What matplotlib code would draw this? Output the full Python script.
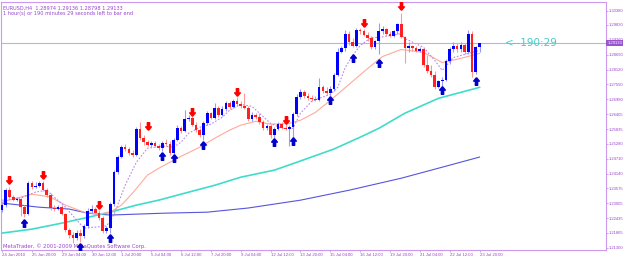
import numpy as np
import matplotlib
matplotlib.use("Agg")
import matplotlib.pyplot as plt
from matplotlib.path import Path

# EURUSD H4 candles, 24 Jun 2010 .. 23 Jul 2010
opens = [1.2274, 1.2293, 1.2350, 1.2324, 1.2312, 1.2316, 1.2285, 1.2259, 1.2377, 1.2362,
         1.2366, 1.2377, 1.2350, 1.2331, 1.2282, 1.2278, 1.2285, 1.2259, 1.2197, 1.2178,
         1.2167, 1.2186, 1.2175, 1.2213, 1.2270, 1.2278, 1.2262, 1.2243, 1.2194, 1.2205,
         1.2297, 1.2419, 1.2477, 1.2515, 1.2507, 1.2492, 1.2484, 1.2584, 1.2549, 1.2534,
         1.2523, 1.2530, 1.2519, 1.2511, 1.2530, 1.2526, 1.2492, 1.2542, 1.2587, 1.2576,
         1.2622, 1.2625, 1.2599, 1.2580, 1.2561, 1.2606, 1.2645, 1.2625, 1.2664, 1.2637,
         1.2660, 1.2683, 1.2667, 1.2690, 1.2679, 1.2671, 1.2664, 1.2622, 1.2637, 1.2629,
         1.2610, 1.2587, 1.2595, 1.2561, 1.2584, 1.2603, 1.2587, 1.2584, 1.2591, 1.2641,
         1.2706, 1.2725, 1.2709, 1.2702, 1.2698, 1.2694, 1.2744, 1.2729, 1.2721, 1.2736,
         1.2790, 1.2881, 1.2893, 1.2950, 1.2916, 1.2904, 1.2962, 1.2958, 1.2946, 1.2931,
         1.2897, 1.2920, 1.2958, 1.2969, 1.2950, 1.2942, 1.2958, 1.2985, 1.2935, 1.2893,
         1.2904, 1.2893, 1.2885, 1.2889, 1.2828, 1.2805, 1.2790, 1.2744, 1.2767, 1.2774,
         1.2843, 1.2889, 1.2904, 1.2889, 1.2908, 1.2878, 1.2950, 1.2801, 1.28974]
highs = [1.2301, 1.2358, 1.2362, 1.2331, 1.2324, 1.2320, 1.2293, 1.2385, 1.2385, 1.2381,
         1.2385, 1.2385, 1.2358, 1.2339, 1.2293, 1.2293, 1.2293, 1.2262, 1.2205, 1.2190,
         1.2197, 1.2201, 1.2221, 1.2282, 1.2293, 1.2285, 1.2274, 1.2251, 1.2213, 1.2305,
         1.2427, 1.2484, 1.2523, 1.2526, 1.2515, 1.2503, 1.2591, 1.2610, 1.2561, 1.2542,
         1.2538, 1.2538, 1.2526, 1.2538, 1.2545, 1.2538, 1.2549, 1.2599, 1.2595, 1.2656,
         1.2637, 1.2633, 1.2610, 1.2587, 1.2614, 1.2652, 1.2648, 1.2683, 1.2671, 1.2671,
         1.2690, 1.2690, 1.2698, 1.2706, 1.2690, 1.2721, 1.2671, 1.2648, 1.2645, 1.2645,
         1.2618, 1.2603, 1.2603, 1.2591, 1.2610, 1.2610, 1.2610, 1.2599, 1.2648, 1.2717,
         1.2736, 1.2732, 1.2721, 1.2713, 1.2709, 1.2778, 1.2752, 1.2744, 1.2748, 1.2797,
         1.2893, 1.2904, 1.2962, 1.2958, 1.2931, 1.2973, 1.2973, 1.2969, 1.2954, 1.2939,
         1.2927, 1.2992, 1.2977, 1.2973, 1.2958, 1.2965, 1.2992, 1.3027, 1.2942, 1.2916,
         1.2908, 1.2901, 1.2897, 1.2893, 1.2866, 1.2828, 1.2805, 1.2774, 1.2782, 1.2851,
         1.2897, 1.2916, 1.2912, 1.2916, 1.2912, 1.2965, 1.2958, 1.2901, 1.29136]
lows = [1.2266, 1.2285, 1.2320, 1.2308, 1.2308, 1.2251, 1.2247, 1.2255, 1.2354, 1.2358,
        1.2362, 1.2347, 1.2324, 1.2274, 1.2270, 1.2274, 1.2255, 1.2190, 1.2167, 1.2148,
        1.2159, 1.2152, 1.2167, 1.2205, 1.2262, 1.2255, 1.2236, 1.2186, 1.2186, 1.2186,
        1.2289, 1.2412, 1.2473, 1.2499, 1.2484, 1.2477, 1.2480, 1.2542, 1.2523, 1.2519,
        1.2515, 1.2515, 1.2503, 1.2499, 1.2519, 1.2484, 1.2484, 1.2538, 1.2568, 1.2572,
        1.2614, 1.2595, 1.2572, 1.2553, 1.2542, 1.2599, 1.2622, 1.2622, 1.2629, 1.2633,
        1.2652, 1.2660, 1.2664, 1.2671, 1.2664, 1.2660, 1.2614, 1.2614, 1.2622, 1.2603,
        1.2580, 1.2580, 1.2549, 1.2549, 1.2580, 1.2584, 1.2580, 1.2519, 1.2549, 1.2633,
        1.2698, 1.2702, 1.2694, 1.2690, 1.2690, 1.2690, 1.2721, 1.2713, 1.2709, 1.2729,
        1.2786, 1.2874, 1.2885, 1.2908, 1.2897, 1.2897, 1.2950, 1.2939, 1.2923, 1.2889,
        1.2889, 1.2870, 1.2950, 1.2942, 1.2935, 1.2935, 1.2950, 1.2931, 1.2839, 1.2878,
        1.2885, 1.2881, 1.2881, 1.2820, 1.2797, 1.2782, 1.2736, 1.2740, 1.2744, 1.2767,
        1.2835, 1.2881, 1.2881, 1.2881, 1.2870, 1.2870, 1.2782, 1.2794, 1.28798]
closes = [1.2293, 1.2350, 1.2324, 1.2312, 1.2316, 1.2285, 1.2259, 1.2377, 1.2362, 1.2366,
          1.2377, 1.2350, 1.2331, 1.2282, 1.2278, 1.2285, 1.2259, 1.2197, 1.2178, 1.2167,
          1.2186, 1.2175, 1.2213, 1.2270, 1.2278, 1.2262, 1.2243, 1.2194, 1.2205, 1.2297,
          1.2419, 1.2477, 1.2515, 1.2507, 1.2492, 1.2484, 1.2584, 1.2549, 1.2534, 1.2523,
          1.2530, 1.2519, 1.2511, 1.2530, 1.2526, 1.2492, 1.2542, 1.2587, 1.2576, 1.2622,
          1.2625, 1.2599, 1.2580, 1.2561, 1.2606, 1.2645, 1.2625, 1.2664, 1.2637, 1.2660,
          1.2683, 1.2667, 1.2690, 1.2679, 1.2671, 1.2664, 1.2622, 1.2637, 1.2629, 1.2610,
          1.2587, 1.2595, 1.2561, 1.2584, 1.2603, 1.2587, 1.2584, 1.2591, 1.2641, 1.2706,
          1.2725, 1.2709, 1.2702, 1.2698, 1.2694, 1.2744, 1.2729, 1.2721, 1.2736, 1.2790,
          1.2881, 1.2893, 1.2950, 1.2916, 1.2904, 1.2962, 1.2958, 1.2946, 1.2931, 1.2897,
          1.2920, 1.2958, 1.2969, 1.2950, 1.2942, 1.2958, 1.2985, 1.2935, 1.2893, 1.2904,
          1.2893, 1.2885, 1.2889, 1.2828, 1.2805, 1.2790, 1.2744, 1.2767, 1.2774, 1.2843,
          1.2889, 1.2904, 1.2889, 1.2908, 1.2878, 1.2950, 1.2801, 1.2897, 1.29133]

# indicator lines, read at a few bars
fast_idx = [0, 5, 9, 12, 14, 17, 20, 22, 25, 28, 30, 33, 36, 39, 43, 46, 48, 50, 53, 56,
            59, 61, 64, 67, 69, 72, 75, 78, 80, 83, 85, 88, 90, 92, 94, 96, 99, 101, 104,
            107, 108, 113, 116, 118, 121, 125, 128]
fast_val = [1.2312, 1.2320, 1.2343, 1.2350, 1.2324, 1.2285, 1.2236, 1.2205, 1.2209, 1.2213,
            1.2255, 1.2369, 1.2457, 1.2511, 1.2519, 1.2515, 1.2534, 1.2568, 1.2591, 1.2603,
            1.2629, 1.2656, 1.2679, 1.2671, 1.2645, 1.2606, 1.2587, 1.2587, 1.2645, 1.2690,
            1.2702, 1.2717, 1.2744, 1.2820, 1.2866, 1.2904, 1.2935, 1.2935, 1.2942, 1.2950,
            1.2931, 1.2897, 1.2847, 1.2809, 1.2858, 1.2874, 1.2885]
mid_idx = [0, 8, 13, 17, 22, 26, 29, 32, 35, 39, 42, 45, 48, 53, 57, 61, 64, 68, 72, 77,
           80, 84, 88, 93, 98, 102, 107, 113, 118, 123, 128]
mid_val = [1.2305, 1.2335, 1.2324, 1.2293, 1.2266, 1.2259, 1.2266, 1.2293, 1.2339, 1.2408,
           1.2434, 1.2457, 1.2480, 1.2515, 1.2549, 1.2580, 1.2599, 1.2614, 1.2603, 1.2606,
           1.2618, 1.2648, 1.2694, 1.2755, 1.2816, 1.2862, 1.2889, 1.2878, 1.2839, 1.2855,
           1.2874]
slow_idx = [0, 8, 16, 22, 29, 36, 42, 48, 57, 64, 73, 80, 89, 96, 101, 108, 117, 128]
slow_val = [1.2186, 1.2201, 1.2224, 1.2243, 1.2266, 1.2293, 1.2312, 1.2335, 1.2369, 1.2400,
            1.2427, 1.2462, 1.2508, 1.2553, 1.2587, 1.2645, 1.2702, 1.2744]
long_idx = [0, 5, 10, 18, 23, 29, 43, 55, 66, 80, 93, 107, 120, 128]
long_val = [1.2301, 1.2293, 1.2285, 1.2278, 1.2262, 1.2255, 1.2262, 1.2266, 1.2282, 1.2312,
            1.2350, 1.2396, 1.2446, 1.2477]

down_idx = [2, 11, 26, 39, 51, 63, 76, 97, 107]
down_val = [1.2389, 1.2408, 1.2293, 1.2595, 1.2648, 1.2725, 1.2618, 1.2992, 1.3057]
up_idx = [6, 21, 29, 43, 46, 54, 73, 78, 88, 94, 101, 118, 127]
up_val = [1.2224, 1.2133, 1.2167, 1.2480, 1.2473, 1.2523, 1.2534, 1.2538, 1.2694, 1.2858,
          1.2839, 1.2732, 1.2767]

time_labels = ["24 Jun 2010", "25 Jun 20:00", "29 Jun 04:00", "30 Jun 12:00", "1 Jul 20:00",
               "5 Jul 04:00", "6 Jul 12:00", "7 Jul 20:00", "9 Jul 04:00", "12 Jul 12:00",
               "13 Jul 20:00", "15 Jul 04:00", "16 Jul 12:00", "19 Jul 20:00", "21 Jul 04:00",
               "22 Jul 12:00", "23 Jul 20:00"]
price_labels = [1.30380, 1.29830, 1.29260, 1.28690, 1.28120, 1.27550, 1.26980, 1.26405,
                1.25835, 1.25280, 1.24710, 1.24140, 1.23575, 1.23005, 1.22435, 1.21865, 1.21300]
bid = 1.29133

frame_c = "#cc99ee"
text_c = "#9944cc"
small_font = ["Liberation Sans", "DejaVu Sans"]

fig = plt.figure(figsize=(6.25, 2.58), dpi=100)
ax = fig.add_axes([0.0016, 0.031, 0.968, 0.961])

x = np.arange(len(closes))
o = np.array(opens); c = np.array(closes)
h = np.array(highs); l = np.array(lows)
up = c >= o

ax.vlines(x[up], l[up], h[up], color="#9999ff", lw=0.8, zorder=2)
ax.vlines(x[~up], l[~up], h[~up], color="#ff9999", lw=0.8, zorder=2)
body_lo = np.minimum(o, c)
body_h = np.maximum(np.abs(c - o), 0.00012)
ax.bar(x[up], body_h[up], bottom=body_lo[up], width=0.72, color="#0000ff", lw=0, zorder=3)
ax.bar(x[~up], body_h[~up], bottom=body_lo[~up], width=0.72, color="#ff2020", lw=0, zorder=3)

ax.plot(long_idx, long_val, color="#5555dd", lw=0.8, zorder=1)
ax.plot(slow_idx, slow_val, color="#40dccb", lw=1.2, zorder=1)
ax.plot(mid_idx, mid_val, color="#ffaa99", lw=0.8, zorder=1)
ax.plot(fast_idx, fast_val, color="#bb88ee", lw=0.8, ls=(0, (1.5, 1.5)), zorder=1)

up_arrow = Path([(0, 1), (0.75, 0.1), (0.3, 0.1), (0.3, -1), (-0.3, -1), (-0.3, 0.1),
                 (-0.75, 0.1), (0, 1)])
down_arrow = Path([(0, -1), (0.75, -0.1), (0.3, -0.1), (0.3, 1), (-0.3, 1), (-0.3, -0.1),
                   (-0.75, -0.1), (0, -1)])
ax.plot(up_idx, up_val, ls="none", marker=up_arrow, ms=5.5, color="#0000cc", zorder=4)
ax.plot(down_idx, down_val, ls="none", marker=down_arrow, ms=5.5, color="#ff0000", zorder=4)

ax.axhline(bid, color="#b8b0e8", lw=0.8, zorder=1)

ax.set_xlim(-0.27, 161.9)
ax.set_ylim(1.21212, 1.30705)

for s in ax.spines.values():
    s.set_color(frame_c)
    s.set_linewidth(0.8)

ax.set_xticks(np.arange(0, 129, 8))
ax.set_xticklabels(time_labels, ha="left", family=small_font, fontsize=3.1)
ax.set_yticks(price_labels)
ax.set_yticklabels(["%.5f" % p for p in price_labels], family=small_font, fontsize=3.0)
ax.yaxis.tick_right()
ax.tick_params(axis="both", colors=frame_c, labelcolor=text_c,
               length=1.2, width=0.6, pad=0.5)
ax.tick_params(axis="x", pad=1.0)

ax.text(0.004, 0.985, "EURUSD,H4  1.28974 1.29136 1.28798 1.29133", transform=ax.transAxes,
        fontsize=3.6, color=text_c, va="top", ha="left")
ax.text(0.004, 0.965, "1 hour(s) or 190 minutes 29 seconds left to bar end",
        transform=ax.transAxes, fontsize=3.6, color=text_c, va="top", ha="left")
ax.text(0.004, 0.006, "MetaTrader, \u00a9 2001-2009 MetaQuotes Software Corp.",
        transform=ax.transAxes, fontsize=3.8, color=text_c, va="bottom", ha="left")
ax.text(134.8, bid, "<--190:29", fontsize=7.5, color="#44cccc", va="center", ha="left")
ax.text(1.0025, bid, "%.5f" % bid, transform=ax.get_yaxis_transform(), fontsize=3.0,
        family=small_font, color="white", va="center", ha="left", zorder=5,
        bbox=dict(boxstyle="square,pad=0.25", fc="#9955cc", ec="none"))

fig.savefig("out.png", dpi=100)
